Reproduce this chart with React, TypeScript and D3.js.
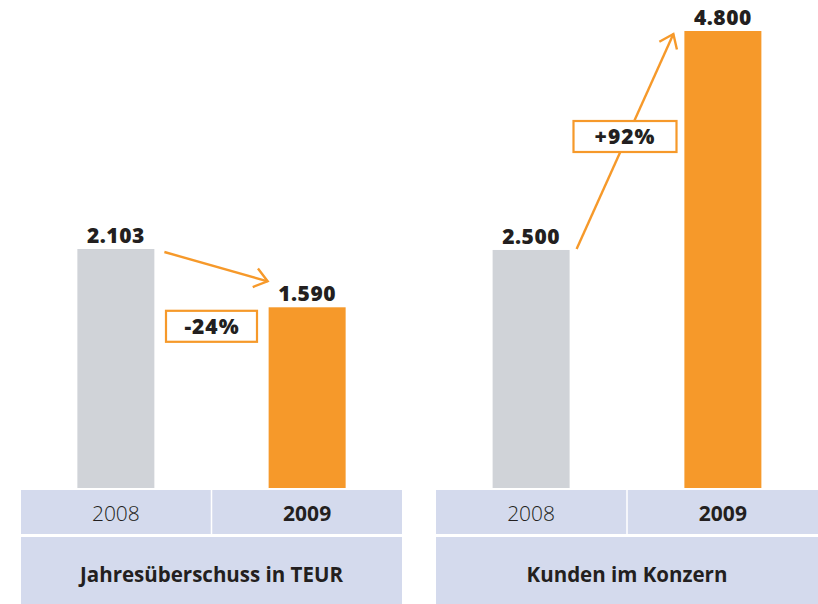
import React from 'react';
import * as d3 from 'd3';

const years = ['2008', '2009'];
const profitValues = [2103, 1590];
const customerValues = [2500, 4800];
const changeLabels = ['-24%', '+92%'];
const panelTitles = ['Jahresüberschuss in TEUR', 'Kunden im Konzern'];

const ORANGE = '#F6992A';
const GRAY = '#D0D3D8';
const TABLE = '#D4DAED';
const TEXT = '#231F20';
const FONT = '"Open Sans", "Noto Sans", sans-serif';

const de = d3.formatLocale({ decimal: ',', thousands: '.', grouping: [3], currency: ['', ' €'] });
const fmt = de.format(',d');

const W = 818;
const H = 604;
const BASE = 488;
const ROW1_TOP = 490;
const ROW1_BOTTOM = 534;
const ROW2_TOP = 537;
const BAR_W = 77;

type Panel = {
  x0: number;
  x1: number;
  values: number[];
  yTop: number;
  title: string;
  change: string;
};

const panels: Panel[] = [
  { x0: 21, x1: 402, values: profitValues, yTop: 249, title: panelTitles[0], change: changeLabels[0] },
  { x0: 436, x1: 818, values: customerValues, yTop: 31, title: panelTitles[1], change: changeLabels[1] },
];

function arrowHead(x1: number, y1: number, x2: number, y2: number, len = 16, ang = 37) {
  const a = Math.atan2(y1 - y2, x1 - x2);
  const r = (ang * Math.PI) / 180;
  const p1 = [x2 + len * Math.cos(a + r), y2 + len * Math.sin(a + r)];
  const p2 = [x2 + len * Math.cos(a - r), y2 + len * Math.sin(a - r)];
  return `M${p1[0]},${p1[1]}L${x2},${y2}L${p2[0]},${p2[1]}`;
}

function PanelView({ p, idx }: { p: Panel; idx: number }) {
  const x = d3.scaleBand<string>().domain(years).range([p.x0, p.x1]).paddingInner(0.008);
  const maxV = d3.max(p.values) as number;
  const y = d3.scaleLinear().domain([0, maxV]).range([BASE, p.yTop]);
  const bw = x.bandwidth();
  const barX = (yr: string) => (x(yr) as number) + bw / 2 - BAR_W / 2;
  const cx = (yr: string) => (x(yr) as number) + bw / 2;
  const top0 = y(p.values[0]);
  const top1 = y(p.values[1]);

  let arrow: React.ReactNode;
  let box: React.ReactNode;
  if (idx === 0) {
    const sx = barX(years[0]) + BAR_W + 10;
    const sy = top0 + 3;
    const tx = barX(years[1]) - 1;
    const ty = top1 - 26;
    arrow = (
      <g stroke={ORANGE} strokeWidth={2.4} fill="none">
        <line x1={sx} y1={sy} x2={tx} y2={ty} />
        <path d={arrowHead(sx, sy, tx, ty)} />
      </g>
    );
    const bx = (p.x0 + p.x1) / 2;
    const by = top1 + 19;
    box = (
      <g>
        <rect x={bx - 45.5} y={by - 15.5} width={91} height={31} fill="#fff" stroke={ORANGE} strokeWidth={2.2} />
        <text x={bx + 0.5} y={by + 7.5} textAnchor="middle" fontFamily={FONT} fontWeight={800} fontSize={21} letterSpacing={1} fill={TEXT}>{p.change}</text>
      </g>
    );
  } else {
    const sx = barX(years[0]) + BAR_W + 7;
    const sy = top0 - 1;
    const tx = barX(years[1]) - 11;
    const ty = top1 + 3;
    arrow = (
      <g stroke={ORANGE} strokeWidth={2.4} fill="none">
        <line x1={sx} y1={sy} x2={tx} y2={ty} />
        <path d={arrowHead(sx, sy, tx, ty)} />
      </g>
    );
    const bx = (sx + tx) / 2;
    const by = 136.5;
    box = (
      <g>
        <rect x={bx - 51.5} y={by - 15.5} width={103} height={31} fill="#fff" stroke={ORANGE} strokeWidth={2.2} />
        <text x={bx} y={by + 7.5} textAnchor="middle" fontFamily={FONT} fontWeight={800} fontSize={21} letterSpacing={1} fill={TEXT}>{p.change}</text>
      </g>
    );
  }

  return (
    <g>
      {years.map((yr, i) => (
        <g key={yr}>
          <rect x={barX(yr)} y={y(p.values[i])} width={BAR_W} height={BASE - y(p.values[i])} fill={i === 0 ? GRAY : ORANGE} />
          <text x={cx(yr)} y={y(p.values[i]) - 6} textAnchor="middle" fontFamily={FONT} fontWeight={800} fontSize={21} letterSpacing={0.5} fill={TEXT}>{fmt(p.values[i])}</text>
          <rect x={x(yr)} y={ROW1_TOP} width={bw} height={ROW1_BOTTOM - ROW1_TOP} fill={TABLE} />
          <text x={cx(yr)} y={521} textAnchor="middle" fontFamily={FONT} fontWeight={i === 0 ? 300 : 700} fontSize={21} fill={TEXT}>{yr}</text>
        </g>
      ))}
      <rect x={p.x0} y={ROW2_TOP} width={p.x1 - p.x0} height={H - ROW2_TOP} fill={TABLE} />
      <text x={(p.x0 + p.x1) / 2} y={582} textAnchor="middle" fontFamily={FONT} fontWeight={700} fontSize={20.5} fill={TEXT}>{p.title}</text>
      {arrow}
      {box}
    </g>
  );
}

export default function App() {
  return (
    <svg width={W} height={H} viewBox={`0 0 ${W} ${H}`} style={{ position: 'absolute', left: 0, top: 0, background: '#fff' }}>
      <rect x={0} y={0} width={W} height={H} fill="#fff" />
      {panels.map((p, i) => (
        <PanelView key={i} p={p} idx={i} />
      ))}
    </svg>
  );
}
